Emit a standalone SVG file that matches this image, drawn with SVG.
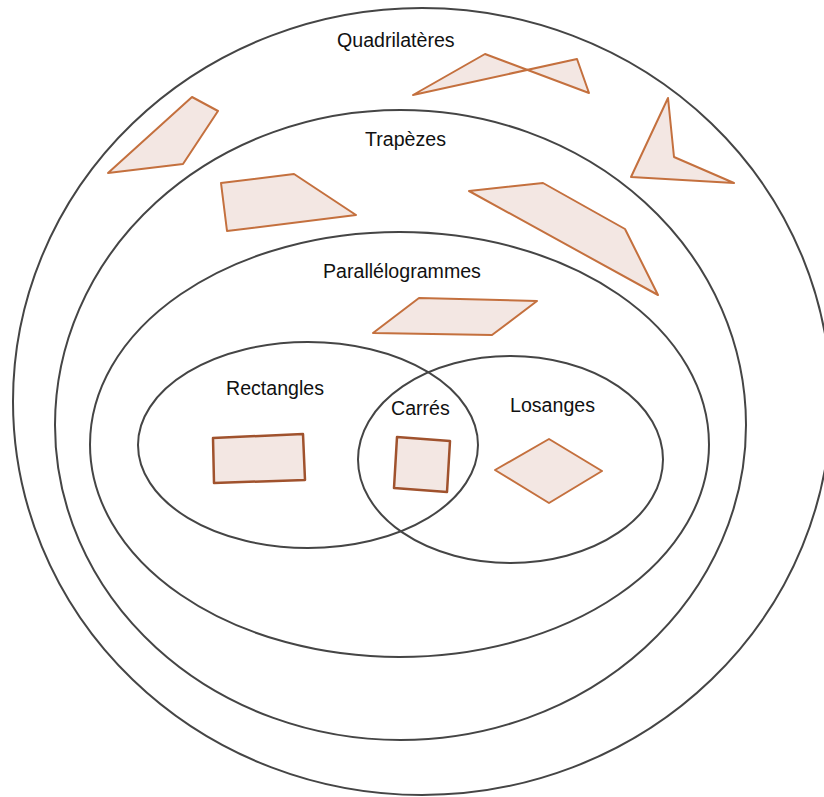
<svg xmlns="http://www.w3.org/2000/svg" width="824" height="797" viewBox="0 0 824 797">
  <style>
    .set { fill: none; stroke: #454545; stroke-width: 2; }
    .shape { fill: #f3e7e3; stroke: #c4703e; stroke-width: 2; stroke-linejoin: round; }
    .shape.dark { stroke: #a0522d; stroke-width: 2.5; }
    .label { font-family: "Liberation Sans", Arial, sans-serif; font-size: 19.6px; fill: #111; }
  </style>
  <rect width="824" height="797" fill="#ffffff"/>
  <g id="quadrilateres">
    <ellipse class="set" cx="422" cy="401.5" rx="409" ry="393.5"/>
    <text class="label" x="337" y="47">Quadrilatères</text>
    <polygon class="shape" points="192,97 218,111 183,164 108,173"/>
    <polygon class="shape" points="413,95 485,54 589,93 577,59"/>
    <polygon class="shape" points="668,98 674,157 734,183 631,177"/>
  </g>
  <g id="trapezes">
    <ellipse class="set" cx="400.5" cy="425" rx="345.5" ry="315"/>
    <text class="label" x="365" y="146">Trapèzes</text>
    <polygon class="shape" points="221,183 294,174 356,215 227,231"/>
    <polygon class="shape" points="469,191 543,183 625,229 658,295"/>
  </g>
  <g id="parallelogrammes">
    <ellipse class="set" cx="399.5" cy="444.5" rx="309.5" ry="212.5"/>
    <text class="label" x="323" y="278">Parallélogrammes</text>
    <polygon class="shape" points="419,298 537,301 492,335 373,333"/>
  </g>
  <g id="rectangles">
    <ellipse class="set" cx="308" cy="445" rx="170" ry="103"/>
    <text class="label" x="226" y="395">Rectangles</text>
    <polygon class="shape dark" points="213,438 303,434 305,480 214,483"/>
  </g>
  <g id="losanges">
    <ellipse class="set" cx="510.5" cy="459.5" rx="152.5" ry="103.5"/>
    <text class="label" x="510" y="412">Losanges</text>
    <polygon class="shape" points="549,439 602,471 549,503 495,470"/>
  </g>
  <g id="carres">
    <text class="label" x="391" y="415">Carrés</text>
    <polygon class="shape dark" points="397,437 450,441 447,492 394,488"/>
  </g>
  <g id="connectors"/>
</svg>
